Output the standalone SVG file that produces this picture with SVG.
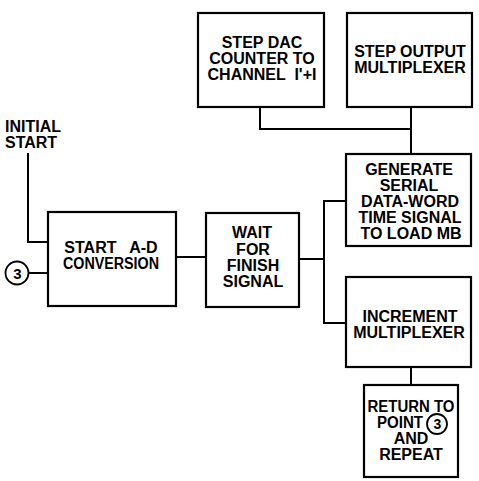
<svg xmlns="http://www.w3.org/2000/svg" width="479" height="481" viewBox="0 0 479 481">
  <style>
    .box { fill: #fff; stroke: #000; stroke-width: 2.2; }
    .wire { fill: none; stroke: #000; stroke-width: 2; }
    .lbl { font-family: "Liberation Sans", Arial, sans-serif; font-weight: bold; font-size: 16px; fill: #000; text-anchor: middle; }
    .left { text-anchor: start; }
    .ring { fill: #fff; stroke: #000; stroke-width: 1.8; }
  </style>
  <rect width="479" height="481" fill="#fff"/>

  <!-- connectors -->
  <g id="connectors">
    <polyline class="wire" points="28,153 28,242 48,242"/>
    <line class="wire" x1="29" y1="273" x2="48" y2="273"/>
    <line class="wire" x1="176" y1="257" x2="206" y2="257"/>
    <line class="wire" x1="299" y1="259" x2="324" y2="259"/>
    <polyline class="wire" points="346,201 324,201 324,323 346,323"/>
    <polyline class="wire" points="260,107 260,129 411,129"/>
    <line class="wire" x1="411" y1="107" x2="411" y2="154"/>
    <line class="wire" x1="411" y1="367" x2="411" y2="385"/>
  </g>

  <!-- entry label -->
  <g id="initial-start">
    <text class="lbl left" x="5" y="132">INITIAL</text>
    <text class="lbl left" x="5" y="148">START</text>
  </g>

  <!-- connector point 3 -->
  <g id="point-3">
    <circle class="ring" cx="17" cy="273" r="11.5"/>
    <text class="lbl" x="17.5" y="278.5" style="font-size:15px">3</text>
  </g>

  <g id="start-ad">
    <rect class="box" x="48" y="212" width="128" height="94"/>
    <text class="lbl" x="111" y="253" xml:space="preserve">START   A-D</text>
    <text class="lbl" x="111" y="269" textLength="96" lengthAdjust="spacingAndGlyphs">CONVERSION</text>
  </g>

  <g id="wait-finish">
    <rect class="box" x="206" y="213" width="93" height="94"/>
    <text class="lbl" x="252" y="238">WAIT</text>
    <text class="lbl" x="253" y="255">FOR</text>
    <text class="lbl" x="253" y="271">FINISH</text>
    <text class="lbl" x="253" y="287">SIGNAL</text>
  </g>

  <g id="step-dac">
    <rect class="box" x="198" y="13" width="126" height="94"/>
    <text class="lbl" x="262" y="48">STEP DAC</text>
    <text class="lbl" x="262" y="64">COUNTER TO</text>
    <text class="lbl" x="262" y="80" xml:space="preserve">CHANNEL  I'+I</text>
  </g>

  <g id="step-output">
    <rect class="box" x="347" y="13" width="125" height="94"/>
    <text class="lbl" x="410" y="57">STEP OUTPUT</text>
    <text class="lbl" x="410" y="73">MULTIPLEXER</text>
  </g>

  <g id="generate-serial">
    <rect class="box" x="346" y="154" width="125" height="92"/>
    <text class="lbl" x="409" y="175">GENERATE</text>
    <text class="lbl" x="409" y="191">SERIAL</text>
    <text class="lbl" x="410" y="207">DATA-WORD</text>
    <text class="lbl" x="410" y="223">TIME SIGNAL</text>
    <text class="lbl" x="411" y="239">TO LOAD MB</text>
  </g>

  <g id="increment-mux">
    <rect class="box" x="346" y="277" width="125" height="90"/>
    <text class="lbl" x="410" y="322">INCREMENT</text>
    <text class="lbl" x="409" y="338">MULTIPLEXER</text>
  </g>

  <g id="return-repeat">
    <rect class="box" x="364" y="385" width="94" height="92"/>
    <text class="lbl" x="411" y="412" textLength="87" lengthAdjust="spacingAndGlyphs">RETURN TO</text>
    <text class="lbl left" x="377" y="428" textLength="46" lengthAdjust="spacingAndGlyphs">POINT</text>
    <circle class="ring" cx="437" cy="424" r="10"/>
    <text class="lbl" x="437.5" y="429" style="font-size:14px">3</text>
    <text class="lbl" x="411" y="444">AND</text>
    <text class="lbl" x="411" y="460">REPEAT</text>
  </g>
</svg>
